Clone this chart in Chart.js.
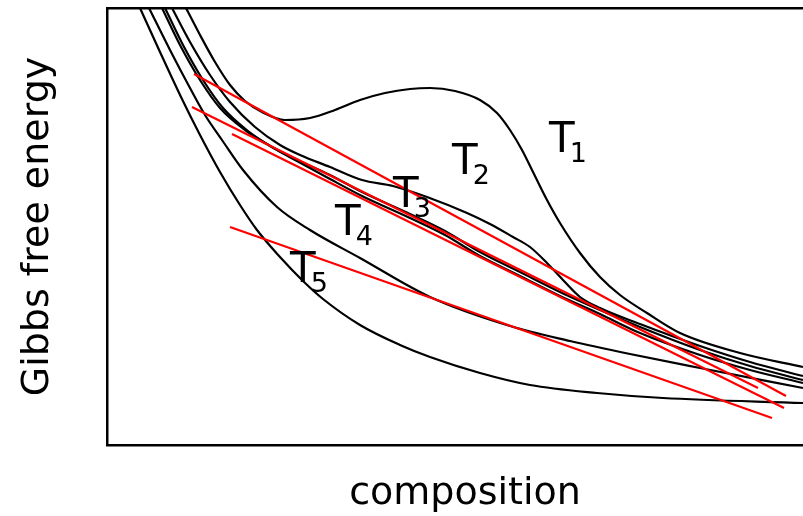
<!DOCTYPE html>
<html>
<head>
<meta charset="utf-8">
<script src="https://cdn.jsdelivr.net/npm/chart.js@4"></script>
<style>
  html, body { margin: 0; padding: 0; background: #fff; overflow: hidden; }
  #wrap { width: 803px; height: 516px; overflow: hidden; }
</style>
</head>
<body>
<div id="wrap"><canvas id="gibbsChart" width="823" height="516"></canvas></div>
<script>
// Free energy curves, composition on x (0..716), energy on y (0..437)
const curveT1 = [[79,437],[93,410],[108,383],[123,360],[138,344],[155,333],[178,325],[203,327],[228,335],[253,345],[278,352],[303,356],[323,357],[348,354],[373,345],[390,332],[403,315],[415,295],[426,273],[440,245],[453,222],[473,192],[493,168],[513,150],[540,132],[573,112],[633,92],[696,78]];
const curveT2 = [[65,437],[83,403],[103,370],[123,343],[148,318],[173,300],[193,290],[223,278],[255,265],[286,259],[320,248],[360,232],[383,221],[406,208],[423,198],[440,182],[456,165],[473,148],[493,137],[533,121],[593,99],[643,83],[696,69]];
const curveT3 = [[55,437],[73,400],[93,365],[113,337],[138,315],[163,299],[188,286],[223,270],[255,253],[303,231],[338,214],[373,193],[413,173],[453,153],[493,135],[533,118],[593,95],[643,79],[696,65]];
const curveT3b = [[58,437],[76,400],[96,365],[116,337],[141,314],[165,298],[190,284],[223,266],[255,249],[303,227],[338,210],[373,189],[413,169],[453,149],[493,131],[533,112],[593,90],[643,75],[696,62]];
const curveT4 = [[42,437],[63,395],[83,357],[98,330],[115,305],[136,275],[170,238],[203,215],[253,187],[323,148],[403,119],[463,104],[523,91],[593,77],[696,57]];
const curveT5 = [[33,437],[53,393],[74,348],[93,310],[113,273],[133,240],[150,215],[173,188],[196,164],[216,146],[253,120],[293,100],[323,88],[373,72],[423,60],[490,52],[556,47],[696,42]];

// common tangents
const tangentA = [[87,371],[679,49]];
const tangentB = [[85,338],[651,57]];
const tangentC = [[125,311],[677,37]];
const tangentD = [[123,218],[665,27]];

// temperature labels: subscript and anchor (left edge of T, baseline)
const tempNames = ['1', '2', '3', '4', '5'];
const tempLabelX = [442, 345, 286, 228, 183];
const tempLabelY = [293, 271, 238, 210, 163];

const toPoints = arr => arr.map(([x, y]) => ({ x, y }));

const curveStyle = {
    borderColor: '#000',
    borderWidth: 2.2,
    pointRadius: 0,
    showLine: true,
    fill: false,
    cubicInterpolationMode: 'monotone',
    order: 1
};
const tangentStyle = {
    borderColor: '#ff0000',
    borderWidth: 2.2,
    pointRadius: 0,
    showLine: true,
    fill: false,
    order: 0
};

const tempLabelPlugin = {
    id: 'tempLabels',
    afterDatasetsDraw(chart) {
        const { ctx, scales } = chart;
        ctx.save();
        ctx.fillStyle = '#000';
        ctx.textBaseline = 'alphabetic';
        tempNames.forEach((name, i) => {
            const px = scales.x.getPixelForValue(tempLabelX[i]);
            const py = scales.y.getPixelForValue(tempLabelY[i]);
            ctx.font = '42px "DejaVu Sans"';
            ctx.fillText('T', px, py);
            const w = ctx.measureText('T').width;
            ctx.font = '27px "DejaVu Sans"';
            ctx.fillText(name, px + w - 5, py + 10);
        });
        ctx.restore();
    }
};

const axisTitleFont = { family: 'DejaVu Sans', size: 38, lineHeight: 1 };
const frameBorder = { display: true, color: '#000', width: 2.5 };

new Chart(document.getElementById('gibbsChart').getContext('2d'), {
    type: 'scatter',
    data: {
        datasets: [
            { ...tangentStyle, data: toPoints(tangentA) },
            { ...tangentStyle, data: toPoints(tangentB) },
            { ...tangentStyle, data: toPoints(tangentC) },
            { ...tangentStyle, data: toPoints(tangentD) },
            { ...curveStyle, data: toPoints(curveT1) },
            { ...curveStyle, data: toPoints(curveT2) },
            { ...curveStyle, data: toPoints(curveT3) },
            { ...curveStyle, data: toPoints(curveT3b) },
            { ...curveStyle, data: toPoints(curveT4) },
            { ...curveStyle, data: toPoints(curveT5) }
        ]
    },
    options: {
        responsive: false,
        animation: false,
        layout: { padding: { top: 8, right: 0, bottom: 0, left: 0 } },
        plugins: { legend: { display: false }, tooltip: { enabled: false } },
        scales: {
            x: {
                type: 'linear',
                min: 0,
                max: 716,
                ticks: { display: false },
                grid: { display: false, drawTicks: false },
                border: frameBorder,
                title: {
                    display: true,
                    text: 'composition',
                    color: '#000',
                    font: axisTitleFont,
                    padding: { top: 30.5, bottom: 2.5 }
                }
            },
            top: {
                type: 'linear',
                position: 'top',
                ticks: { display: false },
                grid: { display: false, drawTicks: false },
                border: frameBorder
            },
            y: {
                type: 'linear',
                min: 0,
                max: 437,
                ticks: { display: false },
                grid: { display: false, drawTicks: false },
                border: frameBorder,
                title: {
                    display: true,
                    text: 'Gibbs free energy',
                    color: '#000',
                    font: axisTitleFont,
                    padding: { top: 19, bottom: 50 }
                }
            }
        }
    },
    plugins: [tempLabelPlugin]
});
</script>
</body>
</html>
